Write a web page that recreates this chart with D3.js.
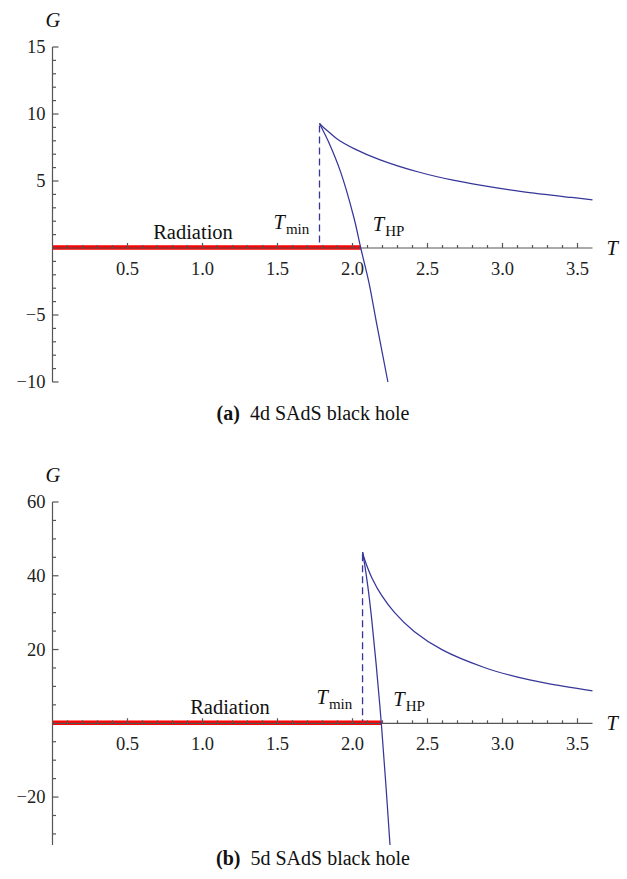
<!DOCTYPE html>
<html>
<head>
<meta charset="utf-8">
<style>
    body { margin: 0; background: white; }
    svg { display: block; font-family: 'Liberation Serif', 'Times New Roman', serif; }
    .axis-line { stroke: #555; stroke-width: 1.2; }
    .tick-lab { font-size: 18.5px; fill: #222; }
    .curve { fill: none; stroke: #36369a; stroke-width: 1.25; }
    .dash { stroke: #36369a; stroke-width: 1.3; stroke-dasharray: 7 4; }
    .note { font-size: 20.5px; fill: #111; }
    .cap { font-size: 20px; fill: #111; }
</style>
</head>
<body>
<svg width="627" height="879"></svg>

<script src="https://d3js.org/d3.v7.min.js"></script>
<script>
    // ---- data ----
    // (a) 4d SAdS
    let upper4T = [1.78, 1.80, 1.84, 1.90, 2.01, 2.18, 2.44, 2.67, 2.88, 3.13, 3.46, 3.60]
    let upper4G = [9.30, 9.07, 8.68, 8.12, 7.42, 6.60, 5.67, 5.06, 4.64, 4.21, 3.77, 3.60]
    let lower4T = [1.78, 1.79, 1.84, 1.92, 2.01, 2.055, 2.11, 2.16, 2.236]
    let lower4G = [9.30, 9.07, 7.93, 5.70, 2.24, 0, -2.60, -5.58, -10]
    let tmin4 = 1.78, thp4 = 2.055
    let gTicks4 = [-10, -5, 5, 10, 15]

    // (b) 5d SAdS
    let upper5T = [2.067, 2.074, 2.095, 2.132, 2.192, 2.281, 2.411, 2.599, 2.874, 3.101, 3.288, 3.60]
    let upper5G = [46.4, 45.3, 42.8, 39.2, 34.8, 30.0, 24.9, 19.9, 15.2, 12.5, 10.9, 8.8]
    let lower5T = [2.067, 2.070, 2.082, 2.102, 2.127, 2.157, 2.192, 2.222, 2.250]
    let lower5G = [46.4, 45.7, 42.8, 37.2, 28.6, 16.3, 0, -16.4, -33]
    let tmin5 = 2.067, thp5 = 2.192
    let gTicks5 = [-20, 20, 40, 60]

    let tTicks = [0.5, 1.0, 1.5, 2.0, 2.5, 3.0, 3.5]

    let svg = d3.select("svg")

    let x = d3.scaleLinear().domain([0, 3.6]).range([52.5, 592.5])

    function fmtG(v) { return v < 0 ? "\u2212" + Math.abs(v) : String(v) }

    function panel(cfg) {
        let y = d3.scaleLinear().domain(cfg.gDomain).range(cfg.gRange)
        let g = svg.append("g")
        let y0 = y(0)

        // red radiation phase along the axis
        g.append("line")
            .attr("x1", x(0)).attr("x2", x(cfg.thp))
            .attr("y1", y0 - 0.5).attr("y2", y0 - 0.5)
            .attr("stroke", "#ff0000").attr("stroke-width", 4.5)

        // x axis
        g.append("line").attr("class", "axis-line")
            .attr("x1", x(0)).attr("x2", x(3.6)).attr("y1", y0).attr("y2", y0)
        let minorT = d3.range(1, 36).map(d => d / 10)
        g.selectAll(".xt").data(minorT).join("line")
            .attr("class", "axis-line")
            .attr("x1", d => x(d)).attr("x2", d => x(d))
            .attr("y1", y0)
            .attr("y2", d => y0 - (Math.abs(d * 2 - Math.round(d * 2)) < 1e-6 ? 5 : 3))
        g.selectAll(".xl").data(tTicks).join("text")
            .attr("class", "tick-lab")
            .attr("x", d => x(d)).attr("y", y0 + 27)
            .attr("text-anchor", "middle")
            .text(d => d3.format(".1f")(d))

        // y axis
        g.append("line").attr("class", "axis-line")
            .attr("x1", x(0)).attr("x2", x(0))
            .attr("y1", y(cfg.gDomain[0])).attr("y2", y(cfg.gDomain[1]))
        let minorG = d3.range(Math.ceil(cfg.gDomain[0] / cfg.gMinor), Math.floor(cfg.gDomain[1] / cfg.gMinor) + 1)
            .map(d => d * cfg.gMinor).filter(d => d != 0)
        g.selectAll(".yt").data(minorG).join("line")
            .attr("class", "axis-line")
            .attr("x1", x(0))
            .attr("x2", d => x(0) + (cfg.gTicks.includes(d) ? 6 : 3.5))
            .attr("y1", d => y(d)).attr("y2", d => y(d))
        g.selectAll(".yl").data(cfg.gTicks).join("text")
            .attr("class", "tick-lab")
            .attr("x", x(0) - 7).attr("y", d => y(d) + 6)
            .attr("text-anchor", "end")
            .text(fmtG)

        // axis labels
        g.append("text").attr("class", "note").attr("font-style", "italic")
            .attr("x", x(0) - 7).attr("y", y(cfg.gDomain[1]) - 20).text("G")
        g.append("text").attr("class", "note").attr("font-style", "italic")
            .attr("x", x(3.6) + 14).attr("y", y0 + 7).text("T")

        // branches
        let line = d3.line().x(d => x(d[0])).y(d => y(d[1])).curve(d3.curveCatmullRom.alpha(0.5))
        g.append("path").attr("class", "curve")
            .attr("d", line(d3.zip(cfg.upperT, cfg.upperG)))
        g.append("path").attr("class", "curve")
            .attr("d", line(d3.zip(cfg.lowerT, cfg.lowerG)))

        // dashed T_min line
        let gmax = d3.max(cfg.upperG)
        g.append("line").attr("class", "dash")
            .attr("x1", x(cfg.tmin)).attr("x2", x(cfg.tmin))
            .attr("y1", y(gmax) + 2).attr("y2", y0 - 2)

        // annotations
        g.append("text").attr("class", "note")
            .attr("x", cfg.radX).attr("y", y0 - 9)
            .attr("text-anchor", "middle").text("Radiation")
        let tm = g.append("text").attr("class", "note")
            .attr("x", x(cfg.tmin) - 46).attr("y", y0 - 19)
        tm.append("tspan").attr("font-style", "italic").text("T")
        tm.append("tspan").attr("font-size", "15px").attr("dy", 5).attr("dx", 1).text("min")
        let th = g.append("text").attr("class", "note")
            .attr("x", x(cfg.thp) + 12).attr("y", y0 - 17)
        th.append("tspan").attr("font-style", "italic").text("T")
        th.append("tspan").attr("font-size", "15px").attr("dy", 5).attr("dx", 1).text("HP")

        // caption
        let cap = g.append("text").attr("class", "cap")
            .attr("x", 313).attr("y", cfg.capY).attr("text-anchor", "middle")
        cap.append("tspan").attr("font-weight", "bold").text("(" + cfg.letter + ")")
        cap.append("tspan").text("\u2002" + cfg.caption)
    }

    panel({
        gDomain: [-10, 15], gRange: [382, 47], gMinor: 1, gTicks: gTicks4,
        upperT: upper4T, upperG: upper4G, lowerT: lower4T, lowerG: lower4G,
        tmin: tmin4, thp: thp4, radX: 193, capY: 420,
        letter: "a", caption: "4d SAdS black hole"
    })

    panel({
        gDomain: [-33, 60], gRange: [845, 502], gMinor: 5, gTicks: gTicks5,
        upperT: upper5T, upperG: upper5G, lowerT: lower5T, lowerG: lower5G,
        tmin: tmin5, thp: thp5, radX: 230, capY: 865,
        letter: "b", caption: "5d SAdS black hole"
    })
</script>
</body>
</html>
